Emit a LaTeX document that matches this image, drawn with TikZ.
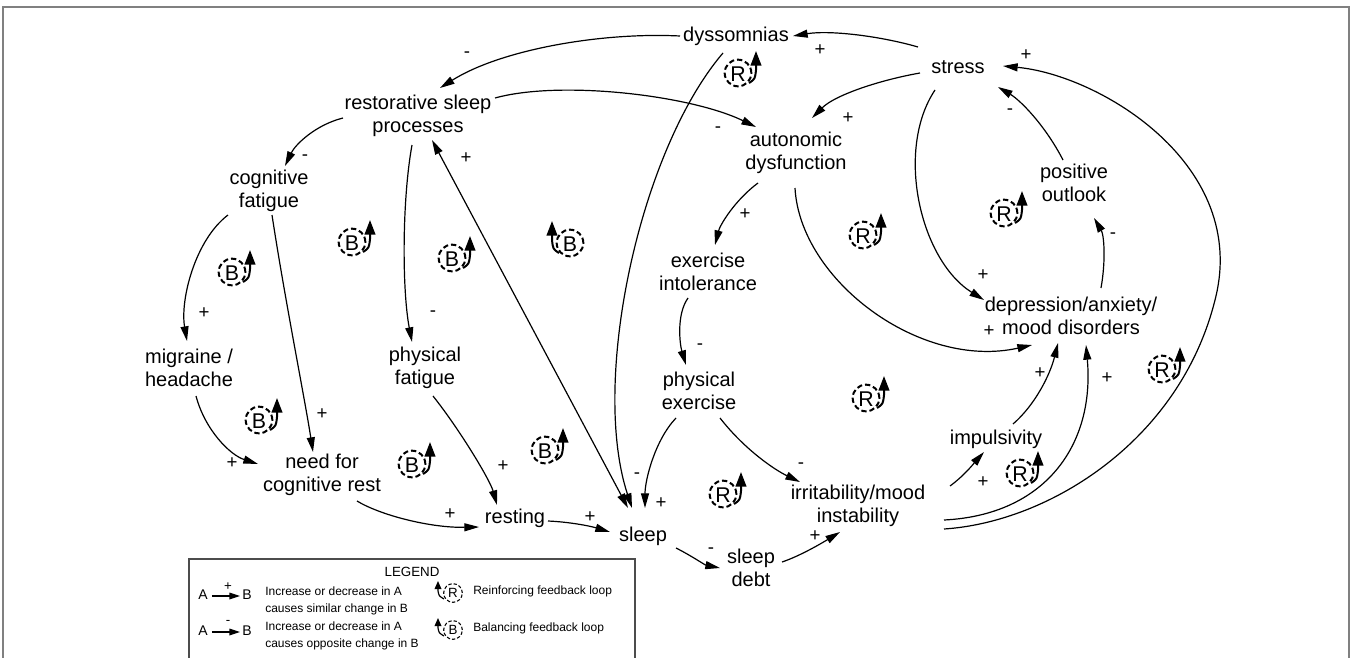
\documentclass[tikz,border=0pt]{standalone}
\usepackage{fontspec}
\setmainfont{Liberation Sans}
\usetikzlibrary{arrows.meta,calc}
\tikzset{
  nd/.style={font=\fontsize{15pt}{17.25pt}\selectfont, align=center, inner sep=0pt},
  sgn/.style={font=\fontsize{14pt}{14pt}\selectfont, inner sep=0pt},
  edge/.style={line width=0.9pt, -{Triangle[length=11pt,width=6pt]}},
  lgtext/.style={font=\fontsize{9pt}{12.5pt}\selectfont, inner sep=0pt, anchor=west, align=left},
  pics/loopmark/.style 2 args={code={
    \draw[dash pattern=on 4pt off 2.2pt, line width=1.5pt] (0,0) circle[radius=10pt];
    \node[font=\fontsize{16pt}{17pt}\selectfont, inner sep=0pt] at (0,1) {#1};
    \draw[line width=1.5pt, -{Triangle[length=11pt,width=8pt]}] (#2*11,10) .. controls (#2*17,6) .. (#2*18,-3) -- (#2*18,-22);
  }},
  pics/lgmark/.style 2 args={code={
    \draw[dash pattern=on 2.5pt off 1.5pt, line width=0.8pt] (0,0) circle[radius=7pt];
    \node[font=\fontsize{10pt}{10pt}\selectfont, inner sep=0pt] at (0,0) {#1};
    \draw[line width=0.9pt, -{Triangle[length=6pt,width=5pt]}] (#2*9,6) .. controls (#2*14,3) .. (#2*15,-2) -- (#2*15,-12);
  }}
}
\begin{document}
\begin{tikzpicture}[x=0.75pt,y=-0.75pt]
\useasboundingbox (0,0) rectangle (1353,657);
% outer frame
\draw[gray, line width=1.2pt] (3,700) -- (3,7) -- (1349,7) -- (1349,700);

% nodes
\node[nd] (dys) at (736,36) {dyssomnias};
\node[nd] (stress) at (958,67) {stress};
\node[nd] (rsp) at (418,116) {restorative sleep\\processes};
\node[nd] (auto) at (796,153) {autonomic\\dysfunction};
\node[nd] (cogf) at (269,191) {cognitive\\fatigue};
\node[nd] (exint) at (708,272) {exercise\\intolerance};
\node[nd] (pos) at (1074,183) {positive\\outlook};
\node[nd] (dep) at (1071,316) {depression/anxiety/\\mood disorders};
\node[nd] (mig) at (189,368) {migraine /\\headache};
\node[nd] (physf) at (425,368) {physical\\fatigue};
\node[nd] (physex) at (699,391) {physical\\exercise};
\node[nd] (ncr) at (322,475) {need for\\cognitive rest};
\node[nd] (imp) at (996,439) {impulsivity};
\node[nd] (irr) at (858,506) {irritability/mood\\instability};
\node[nd] (rest) at (515,518) {resting};
\node[nd] (sleep) at (643,536) {sleep};
\node[nd] (debt) at (751,568) {sleep\\debt};

% edges
\draw[edge] ($(stress)+(-40,-20)$) .. controls (880,36) and (830,30) .. ($(dys)+(57,0)$);
\draw[edge] ($(dys)+(-56,0)$) .. controls (600,32) and (500,50) .. ($(rsp)+(22,-28)$);
\draw[edge] ($(dys)+(-13,17)$) .. controls (640,150) and (590,380) .. ($(sleep)+(-11,-28)$);
\draw[edge, {Triangle[length=11pt,width=6pt]}-{Triangle[length=11pt,width=6pt]}] ($(rsp)+(14,24)$) -- ($(sleep)+(-15,-28)$);
\draw[edge] ($(stress)+(-38,6)$) .. controls (880,80) and (835,95) .. ($(auto)+(16,-35)$);
\draw[edge] ($(rsp)+(77,-18)$) .. controls (560,80) and (690,95) .. ($(auto)+(-40,-26)$);
\draw[edge] ($(rsp)+(-75,2)$) .. controls (315,125) and (295,145) .. ($(cogf)+(16,-25)$);
\draw[edge] ($(rsp)+(-6,29)$) .. controls (402,200) and (402,290) .. ($(physf)+(-13,-26)$);
\draw[edge] ($(cogf)+(-41,24)$) .. controls (195,240) and (180,300) .. ($(mig)+(-2,-27)$);
\draw[edge] ($(cogf)+(3,24)$) .. controls (285,300) and (305,400) .. ($(ncr)+(-9,-23)$);
\draw[edge] ($(mig)+(7,28)$) .. controls (205,430) and (230,455) .. ($(ncr)+(-64,-11)$);
\draw[edge] ($(ncr)+(35,26)$) .. controls (380,515) and (430,528) .. ($(rest)+(-36,9)$);
\draw[edge] ($(physf)+(8,28)$) .. controls (460,430) and (490,480) .. ($(rest)+(-18,-13)$);
\draw[edge] ($(rest)+(33,3)$) .. controls (570,522) and (590,526) .. ($(sleep)+(-33,-4)$);
\draw[edge] ($(sleep)+(33,12)$) .. controls (690,555) and (705,565) .. ($(debt)+(-31,0)$);
\draw[edge] ($(debt)+(31,-6)$) .. controls (800,556) and (822,543) .. ($(irr)+(-18,26)$);
\draw[edge] ($(physex)+(21,27)$) .. controls (745,450) and (775,470) .. ($(irr)+(-58,-24)$);
\draw[edge] ($(physex)+(-23,27)$) .. controls (655,440) and (645,480) .. ($(sleep)+(2,-28)$);
\draw[edge] ($(exint)+(-20,26)$) .. controls (676,315) and (680,345) .. ($(physex)+(-13,-26)$);
\draw[edge] ($(auto)+(-38,30)$) .. controls (735,200) and (720,225) .. ($(exint)+(7,-27)$);
\draw[edge] ($(auto)+(-1,35)$) .. controls (800,280) and (920,370) .. ($(dep)+(-39,29)$);
\draw[edge] ($(stress)+(-23,23)$) .. controls (895,150) and (920,260) .. ($(dep)+(-87,-16)$);
\draw[edge] ($(dep)+(30,-28)$) .. controls (1106,260) and (1104,235) .. ($(pos)+(20,35)$);
\draw[edge] ($(pos)+(-11,-23)$) .. controls (1045,125) and (1020,100) .. ($(stress)+(40,20)$);
\draw[edge] ($(imp)+(17,-15)$) .. controls (1035,405) and (1050,375) .. ($(dep)+(-13,27)$);
\draw[edge] ($(irr)+(92,-20)$) .. controls (965,475) and (975,462) .. ($(imp)+(-12,13)$);
\draw[edge] ($(irr)+(86,14)$) .. controls (1045,515) and (1095,445) .. ($(dep)+(15,29)$);
\draw[edge] ($(irr)+(86,23)$) .. controls (1050,522) and (1180,440) .. (1215,300)
   .. controls (1250,165) and (1100,75) .. ($(stress)+(45,-1)$);

% signs
\node[sgn] (l1) at (820,50) {+};
\node[sgn] (l2) at (467,55) {-};
\node[sgn] (l3) at (637,476) {-};
\node[sgn] (l4) at (466,158) {+};
\node[sgn] (l5) at (848,118) {+};
\node[sgn] (l6) at (718,130) {-};
\node[sgn] (l7) at (305,158) {-};
\node[sgn] (l8) at (433,314) {-};
\node[sgn] (l9) at (204,313) {+};
\node[sgn] (l10) at (322,414) {+};
\node[sgn] (l11) at (232,463) {+};
\node[sgn] (l12) at (450,514) {+};
\node[sgn] (l13) at (503,466) {+};
\node[sgn] (l14) at (590,517) {+};
\node[sgn] (l15) at (711,551) {-};
\node[sgn] (l16) at (815,536) {+};
\node[sgn] (l17) at (801,466) {-};
\node[sgn] (l18) at (661,503) {+};
\node[sgn] (l19) at (700,347) {-};
\node[sgn] (l20) at (745,214) {+};
\node[sgn] (l21) at (989,331) {+};
\node[sgn] (l22) at (983,275) {+};
\node[sgn] (l23) at (1113,236) {-};
\node[sgn] (l24) at (1010,112) {-};
\node[sgn] (l25) at (1040,373) {+};
\node[sgn] (l26) at (983,482) {+};
\node[sgn] (l27) at (1107,378) {+};
\node[sgn] (l28) at (1026,55) {+};

% loop markers
\pic (m1) at (738,73) {loopmark={R}{1}};
\pic (m2) at (863,235) {loopmark={R}{1}};
\pic (m3) at (1004,213) {loopmark={R}{1}};
\pic (m4) at (232,272) {loopmark={B}{1}};
\pic (m5) at (352,242) {loopmark={B}{1}};
\pic (m6) at (452,258) {loopmark={B}{1}};
\pic (m7) at (570,243) {loopmark={B}{-1}};
\pic (m8) at (259,420) {loopmark={B}{1}};
\pic (m9) at (412,464) {loopmark={B}{1}};
\pic (m10) at (545,450) {loopmark={B}{1}};
\pic (m11) at (866,398) {loopmark={R}{1}};
\pic (m12) at (723,494) {loopmark={R}{1}};
\pic (m13) at (1020,473) {loopmark={R}{1}};
\pic (m14) at (1162,369) {loopmark={R}{1}};

% legend
\draw[black!70, line width=0.8pt] (189,700) -- (189,559) -- (635,559) -- (635,700);
\node[font=\fontsize{10pt}{10pt}\selectfont, inner sep=0pt] (lgtitle) at (412,572) {LEGEND};
\node[font=\fontsize{10.5pt}{10pt}\selectfont, inner sep=0pt] (la1) at (203,595) {A};
\node[font=\fontsize{10.5pt}{10pt}\selectfont, inner sep=0pt] (lb1) at (247,595) {B};
\draw[line width=0.9pt, -{Triangle[length=8pt,width=5pt]}] ($(la1.east)+(4,1)$) -- ($(lb1.west)+(-2,1)$);
\node[font=\fontsize{10pt}{10pt}\selectfont, inner sep=0pt] (lp1) at (228,587) {+};
\node[font=\fontsize{10.5pt}{10pt}\selectfont, inner sep=0pt] (la2) at (203,631) {A};
\node[font=\fontsize{10.5pt}{10pt}\selectfont, inner sep=0pt] (lb2) at (247,631) {B};
\draw[line width=0.9pt, -{Triangle[length=8pt,width=5pt]}] ($(la2.east)+(4,1)$) -- ($(lb2.west)+(-2,1)$);
\node[font=\fontsize{10pt}{10pt}\selectfont, inner sep=0pt] (lm1) at (228,622) {-};
\node[lgtext] (lt1) at (265,601) {Increase or decrease in A\\causes similar change in B};
\node[lgtext] (lt2) at (265,636) {Increase or decrease in A\\causes opposite change in B};
\pic (lg1) at (453,593) {lgmark={R}{-1}};
\pic (lg2) at (453,630) {lgmark={B}{-1}};
\node[lgtext] (lt3) at (473,591) {Reinforcing feedback loop};
\node[lgtext] (lt4) at (473,628) {Balancing feedback loop};
\end{tikzpicture}
\end{document}
